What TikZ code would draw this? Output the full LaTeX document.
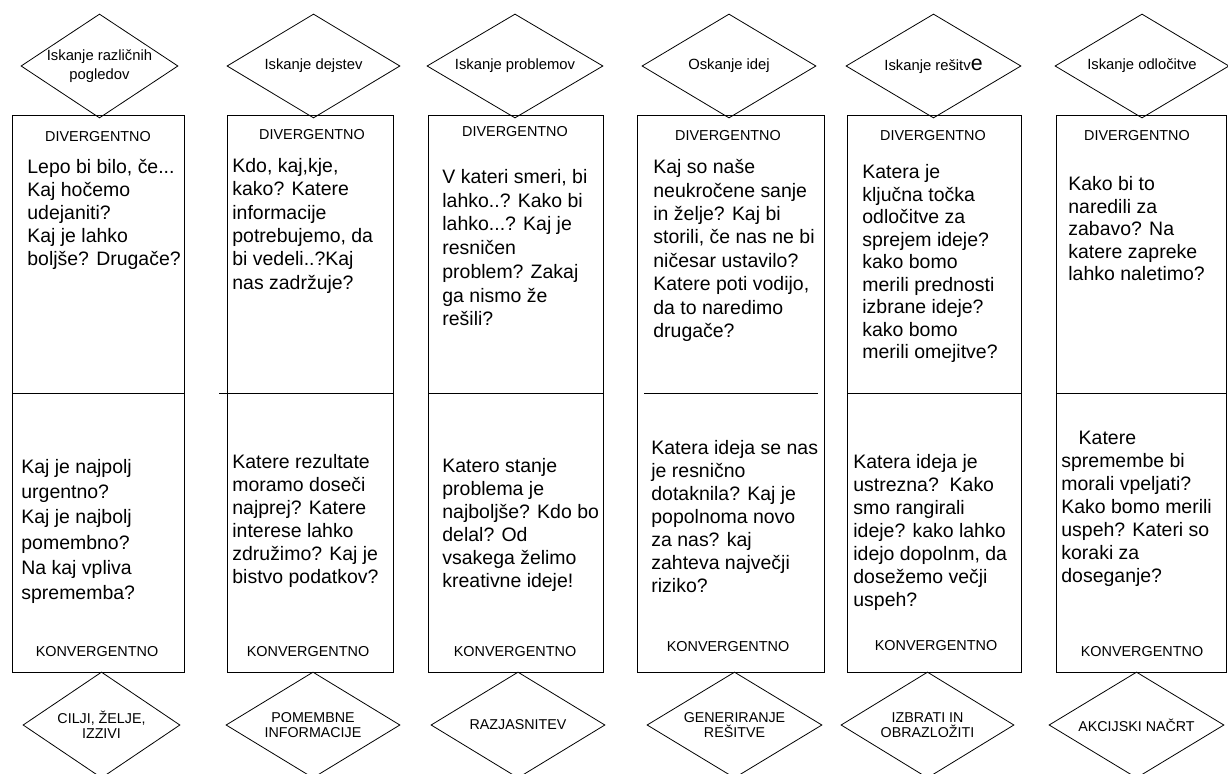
\documentclass[tikz,border=0pt]{standalone}
\usepackage{fontspec}
\setmainfont{Liberation Sans}
\usetikzlibrary{shapes.geometric}
\begin{document}
\begin{tikzpicture}[x=0.75pt,y=-0.75pt,
  line width=0.6pt,
  dia/.style 2 args={draw,diamond,inner sep=0,aspect=1.6,
    minimum width=0.75*#1 pt,minimum height=0.75*#2 pt},
  head/.style={font=\fontsize{10.8pt}{13pt}\selectfont,inner sep=0},
  dtext/.style={font=\fontsize{11.1pt}{14.5pt}\selectfont,align=center,inner sep=0},
  btext/.style={font=\fontsize{10.7pt}{11.5pt}\selectfont,align=center,inner sep=0},
  body/.style={font=\fontsize{14.6pt}{#1}\selectfont,align=left,anchor=north west,inner sep=0}]
\useasboundingbox (0,0) rectangle (1228,774);
\clip (0,0) rectangle (1228,774);

% column boxes (x from / to, y 115 to 672)
\foreach \n/\a/\b in {1/12/184,2/227/393,3/428/603,4/637/824,5/847/1021,6/1056/1226}{
  \path[draw] (\a,115) rectangle (\b,672);
  \coordinate (b\n nw) at (\a,115);
  \coordinate (b\n se) at (\b,672);
}

% dividers between the divergent and convergent halves
\draw (12,393) -- (184,393);
\draw (219,393) -- (393,393);
\draw (428,393) -- (603,393);
\draw (644,393) -- (818,393);
\draw (847,393) -- (1021,393);
\draw (1056,393) -- (1226,393);

% top diamonds
\node[dia={157}{104}] (t1) at (99.5,66) {};
\node[dia={173}{104}] (t2) at (313.5,66) {};
\node[dia={176}{104}] (t3) at (515,66) {};
\node[dia={174}{104}] (t4) at (729,66) {};
\node[dia={175}{104}] (t5) at (933.5,66) {};
\node[dia={174}{104}] (t6) at (1142,66) {};
\node[dtext] at (t1) {Iskanje različnih\\pogledov};
\node[dtext] at (t2) {Iskanje dejstev};
\node[dtext] at (t3) {Iskanje problemov};
\node[dtext] at (t4) {Oskanje idej};
\node[dtext] at (t5) {Iskanje rešitv{\fontsize{16pt}{16pt}\selectfont e}};
\node[dtext] at (t6) {Iskanje odločitve};

% bottom diamonds
\node[dia={157}{106}] (u1) at (101.5,725) {};
\node[dia={174}{106}] (u2) at (313,725) {};
\node[dia={174}{106}] (u3) at (518,725) {};
\node[dia={175}{106}] (u4) at (734.5,725) {};
\node[dia={173}{106}] (u5) at (927.5,725) {};
\node[dia={175}{106}] (u6) at (1136.5,725) {};
\node[btext] at (u1) {CILJI, ŽELJE,\\IZZIVI};
\node[btext] at (u2) {POMEMBNE\\INFORMACIJE};
\node[btext] at (u3) {RAZJASNITEV};
\node[btext] at (u4) {GENERIRANJE\\REŠITVE};
\node[btext] at (u5) {IZBRATI IN\\OBRAZLOŽITI};
\node[btext] at (u6) {AKCIJSKI NAČRT};

% headings
\node[head] (h1) at (98,137) {DIVERGENTNO};
\node[head] (h2) at (312,135) {DIVERGENTNO};
\node[head] (h3) at (515,132) {DIVERGENTNO};
\node[head] (h4) at (728,136) {DIVERGENTNO};
\node[head] (h5) at (933,136) {DIVERGENTNO};
\node[head] (h6) at (1137,136) {DIVERGENTNO};
\node[head] (k1) at (97,652) {KONVERGENTNO};
\node[head] (k2) at (308,652) {KONVERGENTNO};
\node[head] (k3) at (515,652) {KONVERGENTNO};
\node[head] (k4) at (728,647) {KONVERGENTNO};
\node[head] (k5) at (936,646) {KONVERGENTNO};
\node[head] (k6) at (1142,652) {KONVERGENTNO};

% divergent questions
\node[body=17.3pt] (q1) at (27,159) {Lepo bi bilo, če...\\Kaj hočemo\\udejaniti?\\Kaj je lahko\\boljše? Drugače?};
\node[body=17.5pt] (q2) at (232,158) {Kdo, kaj,kje,\\kako? Katere\\informacije\\potrebujemo, da\\bi vedeli..?Kaj\\nas zadržuje?};
\node[body=17.8pt] (q3) at (442,169) {V kateri smeri, bi\\lahko..? Kako bi\\lahko...? Kaj je\\resničen\\problem? Zakaj\\ga nismo že\\rešili?};
\node[body=17.6pt] (q4) at (653,159) {Kaj so naše\\neukročene sanje\\in želje? Kaj bi\\storili, če nas ne bi\\ničesar ustavilo?\\Katere poti vodijo,\\da to naredimo\\drugače?};
\node[body=16.9pt] (q5) at (862,164) {Katera je\\ključna točka\\odločitve za\\sprejem ideje?\\kako bomo\\merili prednosti\\izbrane ideje?\\kako bomo\\merili omejitve?};
\node[body=16.9pt] (q6) at (1068,176) {Kako bi to\\naredili za\\zabavo? Na\\katere zapreke\\lahko naletimo?};

% convergent questions
\node[body=18.9pt] (r1) at (21,459) {Kaj je najpolj\\urgentno?\\Kaj je najbolj\\pomembno?\\Na kaj vpliva\\sprememba?};
\node[body=17.25pt] (r2) at (232,454) {Katere rezultate\\moramo doseči\\najprej? Katere\\interese lahko\\združimo? Kaj je\\bistvo podatkov?};
\node[body=17.25pt] (r3) at (442,458) {Katero stanje\\problema je\\najboljše? Kdo bo\\delal? Od\\vsakega želimo\\kreativne ideje!};
\node[body=17.25pt] (r4) at (651,440) {Katera ideja se nas\\je resnično\\dotaknila? Kaj je\\popolnoma novo\\za nas? kaj\\zahteva največji\\riziko?};
\node[body=17.25pt] (r5) at (853,454) {Katera ideja je\\ustrezna?\ \ Kako\\smo rangirali\\ideje? kako lahko\\idejo dopolnm, da\\dosežemo večji\\uspeh?};
\node[body=17.25pt] (r6) at (1061,431) {\hspace*{13pt}Katere\\spremembe bi\\morali vpeljati?\\Kako bomo merili\\uspeh? Kateri so\\koraki za\\doseganje?};
\end{tikzpicture}
\end{document}
